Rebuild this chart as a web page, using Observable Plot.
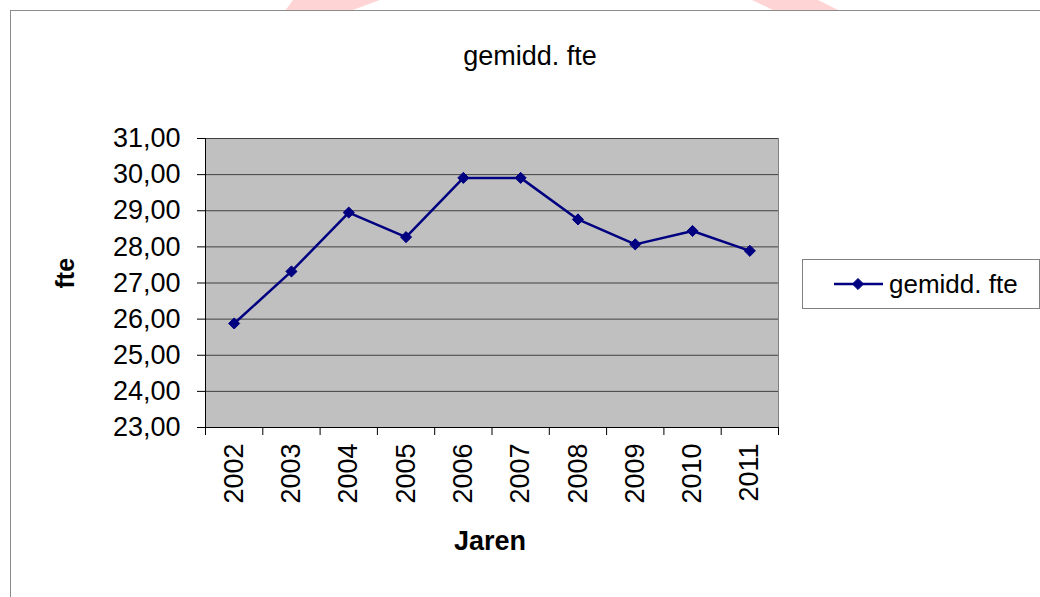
<!DOCTYPE html>
<html>
<head>
<meta charset="utf-8">
<script src="https://cdn.jsdelivr.net/npm/d3@7"></script>
<script src="https://cdn.jsdelivr.net/npm/@observablehq/plot@0.6"></script>
<style>
  body { margin: 0; background: #fff; font-family: "Liberation Sans", Arial, sans-serif; }
  #wrap { position: relative; width: 1040px; height: 597px; overflow: hidden; background: #fff; }
  #wm { position: absolute; left: 0; top: 0; }
  #border { position: absolute; left: 10px; top: 10px; right: -2px; bottom: -2px; border-top: 1px solid #8c8c8c; border-left: 1px solid #8c8c8c; }
  #chart { position: absolute; left: 0; top: 0; }
  #legend { position: absolute; left: 802px; top: 259px; }
</style>
</head>
<body>
<div id="wrap">
  <svg id="wm" width="1040" height="12">
    <polygon points="293,0 380,0 350,11 285,11" fill="#ffd4d4"></polygon>
    <polygon points="752,0 818,0 840,11 775,11" fill="#ffd4d4"></polygon>
  </svg>
  <div id="border"></div>
  <div id="chart"></div>
  <div id="legend"></div>
</div>
<script>
// Data
const years = [2002, 2003, 2004, 2005, 2006, 2007, 2008, 2009, 2010, 2011];
const fte = [25.88, 27.32, 28.95, 28.27, 29.91, 29.91, 28.76, 28.07, 28.44, 27.89];
const yTicks = [23, 24, 25, 26, 27, 28, 29, 30, 31];
const seriesName = "gemidd. fte";
const chartTitle = "gemidd. fte";
const xTitle = "Jaren";
const yTitle = "fte";

const navy = "#000080";
const data = years.map((y, i) => ({ year: y, fte: fte[i] }));
const boundaries = [...years.map(y => y - 0.5), years[years.length - 1] + 0.5];

const chart = Plot.plot({
  width: 1040,
  height: 597,
  marginLeft: 205,
  marginRight: 262,
  marginTop: 138,
  marginBottom: 170,
  style: { fontFamily: "'Liberation Sans', Arial, sans-serif", fontSize: "27px", color: "#000", background: "transparent", overflow: "visible" },
  x: { domain: [boundaries[0], boundaries[boundaries.length - 1]] },
  y: { domain: [yTicks[0], yTicks[yTicks.length - 1]] },
  marks: [
    Plot.frame({ fill: "#c0c0c0", stroke: "#808080" }),
    Plot.gridY(yTicks, { stroke: "#404040", strokeOpacity: 1 }),
    Plot.axisY(yTicks, { tickFormat: d => d.toFixed(2).replace(".", ","), tickSize: 8, tickPadding: 17, label: null, stroke: "#000" }),
    Plot.axisX(boundaries, { tickFormat: () => "", tickSize: 8, label: null, stroke: "#000" }),
    Plot.axisX(years, { tickSize: 0, tickRotate: -90, tickPadding: 16, tickFormat: d => String(d), label: null }),
    Plot.ruleX([boundaries[0]], { stroke: "#000" }),
    Plot.ruleY([yTicks[0]], { stroke: "#000" }),
    Plot.line(data, { x: "year", y: "fte", stroke: navy, strokeWidth: 2.5 }),
    Plot.dot(data, { x: "year", y: "fte", symbol: "diamond2", r: 5, fill: navy, stroke: navy, strokeWidth: 1 }),
    Plot.text([chartTitle], { frameAnchor: "top", lineAnchor: "middle", text: d => d, dy: -82, dx: 38, fontSize: 27, fill: "#000" }),
    Plot.text([xTitle], { frameAnchor: "bottom", lineAnchor: "middle", text: d => d, dy: 114, dx: -2, fontSize: 27, fontWeight: "bold", fill: "#000" }),
    Plot.text([yTitle], { frameAnchor: "left", lineAnchor: "middle", text: d => d, dx: -140, dy: 5.5, rotate: -90, fontSize: 25, fontWeight: "bold", fill: "#000" })
  ]
});
document.getElementById("chart").appendChild(chart);

// Legend
const lg = d3.select("#legend").append("svg").attr("width", 238).attr("height", 50);
lg.append("rect").attr("x", 0.5).attr("y", 0.5).attr("width", 237).attr("height", 49)
  .attr("fill", "#fff").attr("stroke", "#808080");
lg.append("line").attr("x1", 32).attr("x2", 81).attr("y1", 25).attr("y2", 25)
  .attr("stroke", navy).attr("stroke-width", 2.5);
lg.append("path").attr("d", d3.symbol(d3.symbolDiamond2, Math.PI * 25)()).attr("transform", "translate(56,25)")
  .attr("fill", navy).attr("stroke", navy);
lg.append("text").attr("x", 87).attr("y", 34).attr("font-size", 26)
  .attr("font-family", "'Liberation Sans', Arial, sans-serif").text(seriesName);
</script>
</body>
</html>
